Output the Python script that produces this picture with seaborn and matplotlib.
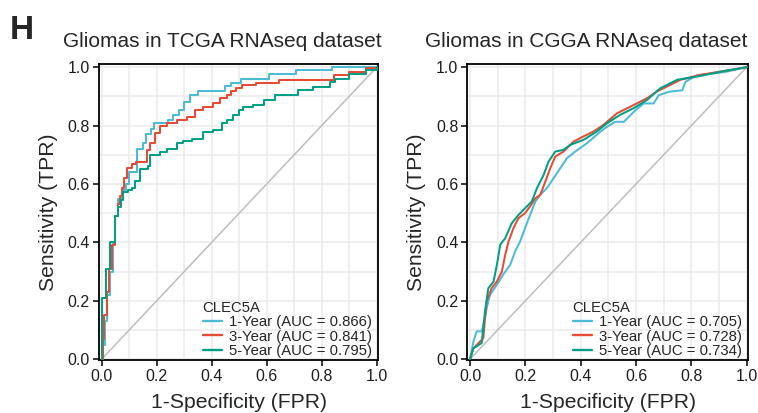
import numpy as np
import pandas as pd
import matplotlib
matplotlib.use("Agg")
import matplotlib.pyplot as plt
import seaborn as sns
from matplotlib.ticker import MultipleLocator

sns.set_theme(style="white")
plt.rcParams['font.family'] = ['Liberation Sans', 'DejaVu Sans']

# ---------------- data ----------------
titles = ["Gliomas in TCGA RNAseq dataset", "Gliomas in CGGA RNAseq dataset"]
legend_title = "CLEC5A"
years = ["1-Year", "3-Year", "5-Year"]
auc_tcga = [0.866, 0.841, 0.795]
auc_cgga = [0.705, 0.728, 0.734]
colors = ["#4DBBD5", "#E64B35", "#00A087"]

# TCGA (step curves)
tcga_1y_fpr = [0, 0.005, 0.012, 0.02, 0.03, 0.04, 0.05, 0.06, 0.075, 0.09, 0.10, 0.13, 0.15, 0.16,
               0.18, 0.19, 0.24, 0.26, 0.28, 0.30, 0.32, 0.35, 0.45, 0.47, 0.505, 0.607, 0.705, 0.839, 1.0]
tcga_1y_tpr = [0, 0.05, 0.13, 0.22, 0.30, 0.40, 0.49, 0.55, 0.58, 0.60, 0.64, 0.72, 0.74, 0.77,
               0.79, 0.81, 0.82, 0.835, 0.855, 0.88, 0.905, 0.917, 0.934, 0.945, 0.961, 0.978, 0.99, 1.0, 1.0]
tcga_3y_fpr = [0, 0.005, 0.01, 0.02, 0.027, 0.039, 0.048, 0.06, 0.067, 0.073, 0.08, 0.091, 0.109, 0.125,
               0.164, 0.176, 0.194, 0.212, 0.236, 0.273, 0.309, 0.339, 0.37, 0.406, 0.43, 0.455, 0.47,
               0.49, 0.51, 0.56, 0.645, 0.845, 0.9, 0.96, 1.0]
tcga_3y_tpr = [0, 0.07, 0.15, 0.23, 0.31, 0.39, 0.49, 0.53, 0.56, 0.586, 0.62, 0.654, 0.67, 0.677,
               0.717, 0.74, 0.774, 0.797, 0.808, 0.82, 0.831, 0.854, 0.865, 0.877, 0.894, 0.905, 0.92,
               0.93, 0.939, 0.945, 0.955, 0.973, 0.984, 0.996, 1.0]
tcga_5y_fpr = [0, 0.0, 0.015, 0.029, 0.048, 0.06, 0.069, 0.079, 0.097, 0.109, 0.12, 0.139, 0.17, 0.176,
               0.212, 0.236, 0.273, 0.297, 0.33, 0.37, 0.406, 0.436, 0.455, 0.479, 0.5, 0.515, 0.55,
               0.59, 0.63, 0.715, 0.77, 0.83, 0.85, 0.9, 0.96, 1.0]
tcga_5y_tpr = [0, 0.21, 0.31, 0.40, 0.49, 0.52, 0.546, 0.574, 0.58, 0.586, 0.61, 0.65, 0.66, 0.70,
               0.711, 0.72, 0.74, 0.748, 0.755, 0.777, 0.785, 0.808, 0.82, 0.835, 0.853, 0.864, 0.87,
               0.887, 0.904, 0.921, 0.933, 0.95, 0.96, 0.978, 0.99, 1.0]

# CGGA
cgga_1y_fpr = [0, 0.012, 0.024, 0.042, 0.054, 0.06, 0.072, 0.097, 0.12, 0.145, 0.163, 0.181, 0.199,
               0.217, 0.236, 0.254, 0.278, 0.302, 0.326, 0.35, 0.38, 0.423, 0.471, 0.495, 0.525, 0.556,
               0.574, 0.598, 0.628, 0.664, 0.682, 0.719, 0.767, 0.779, 0.821, 0.875, 0.924, 1.0]
cgga_1y_tpr = [0, 0.06, 0.095, 0.095, 0.14, 0.175, 0.22, 0.255, 0.29, 0.323, 0.369, 0.403, 0.449,
               0.494, 0.54, 0.563, 0.586, 0.62, 0.654, 0.688, 0.711, 0.74, 0.779, 0.796, 0.813, 0.813,
               0.83, 0.853, 0.876, 0.876, 0.904, 0.916, 0.921, 0.95, 0.973, 0.978, 0.984, 1.0]
cgga_3y_fpr = [0, 0.012, 0.036, 0.048, 0.054, 0.06, 0.078, 0.097, 0.115, 0.127, 0.139, 0.157, 0.175,
               0.199, 0.217, 0.236, 0.254, 0.272, 0.29, 0.308, 0.338, 0.374, 0.41, 0.447, 0.483, 0.531,
               0.58, 0.64, 0.676, 0.725, 0.761, 0.833, 0.918, 1.0]
cgga_3y_tpr = [0, 0.037, 0.06, 0.072, 0.14, 0.197, 0.243, 0.266, 0.3, 0.357, 0.403, 0.449, 0.483,
               0.5, 0.523, 0.551, 0.563, 0.608, 0.654, 0.694, 0.711, 0.745, 0.763, 0.78, 0.803, 0.842,
               0.865, 0.894, 0.917, 0.94, 0.957, 0.974, 0.987, 1.0]
cgga_5y_fpr = [0, 0.012, 0.042, 0.054, 0.066, 0.085, 0.097, 0.109, 0.127, 0.151, 0.175, 0.199, 0.223,
               0.242, 0.266, 0.284, 0.308, 0.338, 0.362, 0.41, 0.459, 0.495, 0.543, 0.592, 0.64, 0.688,
               0.749, 0.833, 0.918, 1.0]
cgga_5y_tpr = [0, 0.037, 0.055, 0.163, 0.243, 0.266, 0.323, 0.392, 0.414, 0.466, 0.494, 0.517, 0.54,
               0.586, 0.631, 0.677, 0.711, 0.717, 0.734, 0.751, 0.78, 0.808, 0.837, 0.86, 0.888, 0.928,
               0.957, 0.97, 0.987, 1.0]

ticks = [0.0, 0.2, 0.4, 0.6, 0.8, 1.0]
tick_labels = ["0.0", "0.2", "0.4", "0.6", "0.8", "1.0"]
xlabel = "1-Specificity (FPR)"
ylabel = "Sensitivity (TPR)"


def build(fprs, tprs, aucs):
    frames = []
    for yr, f, t, a in zip(years, fprs, tprs, aucs):
        frames.append(pd.DataFrame({"fpr": f, "tpr": t,
                                    "curve": f"{yr} (AUC = {a:.3f})"}))
    return pd.concat(frames, ignore_index=True)


df_tcga = build([tcga_1y_fpr, tcga_3y_fpr, tcga_5y_fpr],
                [tcga_1y_tpr, tcga_3y_tpr, tcga_5y_tpr], auc_tcga)
df_cgga = build([cgga_1y_fpr, cgga_3y_fpr, cgga_5y_fpr],
                [cgga_1y_tpr, cgga_3y_tpr, cgga_5y_tpr], auc_cgga)

W, H = 758, 413
fig = plt.figure(figsize=(W / 100, H / 100), dpi=100)
ax1 = fig.add_axes([99 / W, 1 - 360 / H, 279.3 / W, 295.7 / H])
ax2 = fig.add_axes([467.3 / W, 1 - 360 / H, 281 / W, 295.7 / H])

title_x = [222.8, 586]
for ax, df, title, steps, tx in [(ax1, df_tcga, titles[0], True, title_x[0]),
                                 (ax2, df_cgga, titles[1], False, title_x[1])]:
    ax.set_xlim(-0.01, 1.006)
    ax.set_ylim(-0.003, 1.01)
    ax.xaxis.set_minor_locator(MultipleLocator(0.1))
    ax.yaxis.set_minor_locator(MultipleLocator(0.1))
    ax.grid(True, which="both", color="#EBEBEB", lw=1.1)
    ax.set_axisbelow(True)
    ax.plot([0, 1], [0, 1], color="#BEBEBE", lw=1.1, zorder=2)
    kw = dict(drawstyle="steps-post") if steps else {}
    sns.lineplot(data=df, x="fpr", y="tpr", hue="curve", palette=colors,
                 estimator=None, sort=False, lw=1.45, ax=ax, zorder=3, **kw)
    ax.set_xticks(ticks)
    ax.set_xticklabels(tick_labels)
    ax.set_yticks(ticks)
    ax.set_yticklabels(tick_labels)
    ax.tick_params(axis="both", which="major", direction="out", length=4, width=1.1,
                   color="black", labelsize=11.5, labelcolor="#1E1E1E", pad=2.5,
                   bottom=True, left=True)
    ax.tick_params(which="minor", length=0)
    for s in ax.spines.values():
        s.set_color("black")
        s.set_linewidth(1.3)
    ax.set_xlabel(xlabel, fontsize=15.2)
    ax.set_ylabel(ylabel, fontsize=15.2)
    ax.xaxis.label.set_va("center")
    ax.yaxis.label.set_va("center")
    ax.xaxis.set_label_coords(0.5, -0.145)
    ax.yaxis.set_label_coords(-0.18, 0.5)
    fig.text(tx / W, 1 - 47 / H, title, fontsize=15, ha="center", va="baseline")
    leg = ax.legend(title=legend_title, loc="lower right", frameon=False,
                    fontsize=10.7, title_fontsize=10.7, handlelength=1.3,
                    handletextpad=0.5, labelspacing=0.02, borderaxespad=0.0,
                    alignment="left", bbox_to_anchor=(1.0, -0.013))
    for line in leg.get_lines():
        line.set_linewidth(1.7)

fig.text(10 / W, 1 - 39 / H, "H", fontsize=24, fontweight="bold", va="baseline")

fig.savefig("out.png", dpi=100)
